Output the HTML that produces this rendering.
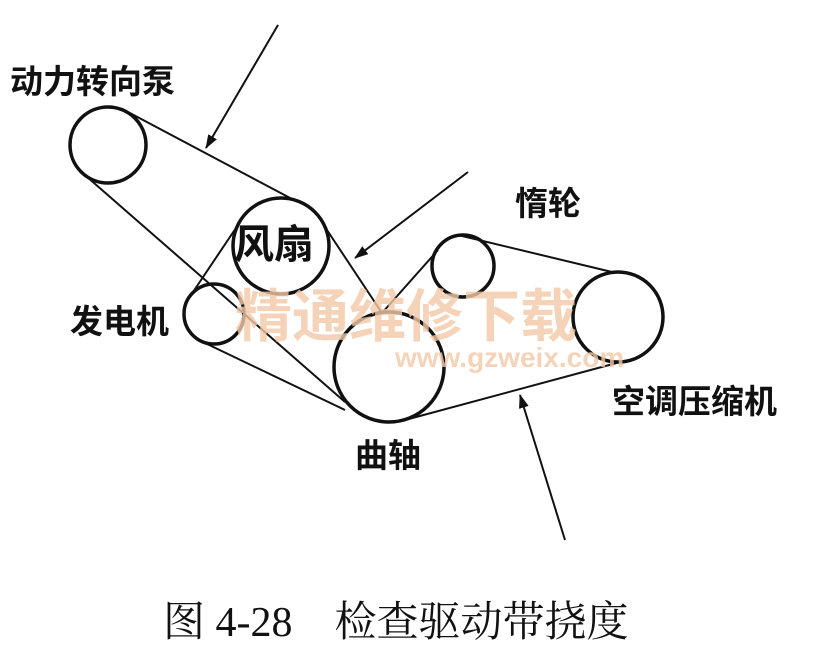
<!DOCTYPE html>
<html><head><meta charset="utf-8"><style>
html,body{margin:0;padding:0;background:#fff;}
svg{display:block;}
.l{font-family:"Liberation Sans","Noto Sans CJK SC",sans-serif;font-weight:bold;font-size:33px;fill:#111;}
</style></head><body>
<svg width="816" height="660" viewBox="0 0 816 660" xmlns="http://www.w3.org/2000/svg">
<defs><marker id="a" markerWidth="14" markerHeight="10" refX="13" refY="5" orient="auto" markerUnits="userSpaceOnUse"><path d="M0,0 L14,5 L0,10 Z" fill="#111"/></marker></defs>
<g fill="none" stroke="#111" stroke-width="3.5">
<circle cx="108" cy="145" r="38"/>
<circle cx="281" cy="246" r="48"/>
<circle cx="214" cy="314" r="30"/>
<circle cx="389" cy="367" r="55"/>
<circle cx="463" cy="266" r="31"/>
<circle cx="618" cy="317" r="45"/>
</g>
<g stroke="#111" stroke-width="2" fill="none">
<line x1="128" y1="112" x2="292" y2="199"/>
<line x1="86" y1="176" x2="345" y2="402"/>
<line x1="323" y1="224" x2="382" y2="313"/>
<line x1="240" y1="222" x2="193" y2="292"/>
<line x1="205" y1="343" x2="345" y2="410"/>
<line x1="382" y1="313" x2="438" y2="250"/>
<line x1="458" y1="235" x2="612" y2="272"/>
<line x1="405" y1="420" x2="624" y2="361"/>
<line x1="278" y1="25" x2="206" y2="148" marker-end="url(#a)"/>
<line x1="468" y1="172" x2="355" y2="258" marker-end="url(#a)"/>
<line x1="565" y1="540" x2="520" y2="395" marker-end="url(#a)"/>
</g>
<text x="235" y="336" font-family="'Noto Sans CJK SC',sans-serif" font-size="57" font-weight="bold" fill="#f3c9a8" opacity="0.8">精通维修下载</text>
<text x="395" y="367" font-family="'Liberation Sans',sans-serif" font-size="28" font-weight="bold" fill="#f3c9a8" opacity="0.8">www.gzweix.com</text>
<text class="l" x="10" y="93">动力转向泵</text>
<text class="l" x="234" y="258" style="font-size:40px">风扇</text>
<text class="l" x="515" y="215">惰轮</text>
<text class="l" x="70" y="333">发电机</text>
<text class="l" x="612" y="413">空调压缩机</text>
<text class="l" x="355" y="467">曲轴</text>
<text x="163" y="636" font-family="'Liberation Serif','Noto Serif CJK SC',serif" font-size="42" fill="#111">图 4-28　检查驱动带挠度</text>
</svg>
</body></html>
